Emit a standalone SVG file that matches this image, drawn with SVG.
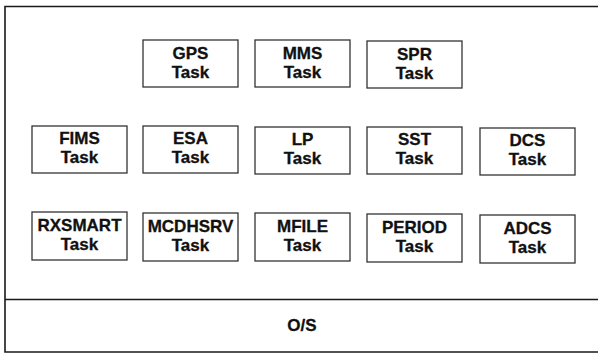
<svg xmlns="http://www.w3.org/2000/svg" width="598" height="356" viewBox="0 0 598 356">
<style>
.frame{fill:none;stroke:#1a1a1a;stroke-width:1.6}
.box{fill:#fff;stroke:#333;stroke-width:1.3}
.t{font-family:"Liberation Sans",Arial,sans-serif;font-weight:bold;font-size:17px;fill:#111;stroke:#111;stroke-width:0.3;text-anchor:middle}
</style>
<rect width="598" height="356" fill="#fff"/>
<g id="frame">
<path class="frame" d="M600,6.5 H5 V352 H600"/>
<line class="frame" x1="5" y1="299.5" x2="600" y2="299.5"/>
</g>
<g id="os"><text class="t" x="302" y="331">O/S</text></g>
<g id="gps"><rect class="box" x="143" y="40" width="95" height="47"/><text class="t" x="190.5" y="59">GPS</text><text class="t" x="190.5" y="78">Task</text></g>
<g id="mms"><rect class="box" x="255" y="40" width="95" height="47"/><text class="t" x="302.5" y="59">MMS</text><text class="t" x="302.5" y="78">Task</text></g>
<g id="spr"><rect class="box" x="367" y="41" width="95" height="47"/><text class="t" x="414.5" y="60">SPR</text><text class="t" x="414.5" y="79">Task</text></g>
<g id="fims"><rect class="box" x="32" y="126" width="95" height="47"/><text class="t" x="79.5" y="144">FIMS</text><text class="t" x="79.5" y="163">Task</text></g>
<g id="esa"><rect class="box" x="143" y="126" width="95" height="47"/><text class="t" x="190.5" y="144">ESA</text><text class="t" x="190.5" y="163">Task</text></g>
<g id="lp"><rect class="box" x="255" y="127" width="95" height="47"/><text class="t" x="302.5" y="145">LP</text><text class="t" x="302.5" y="164">Task</text></g>
<g id="sst"><rect class="box" x="367" y="127" width="95" height="47"/><text class="t" x="414.5" y="145">SST</text><text class="t" x="414.5" y="164">Task</text></g>
<g id="dcs"><rect class="box" x="480" y="128" width="95" height="47"/><text class="t" x="527.5" y="146">DCS</text><text class="t" x="527.5" y="165">Task</text></g>
<g id="rxsmart"><rect class="box" x="32" y="212" width="95" height="48"/><text class="t" x="79.5" y="231">RXSMART</text><text class="t" x="79.5" y="250">Task</text></g>
<g id="mcdhsrv"><rect class="box" x="143" y="213" width="95" height="48"/><text class="t" x="190.5" y="232">MCDHSRV</text><text class="t" x="190.5" y="251">Task</text></g>
<g id="mfile"><rect class="box" x="255" y="213" width="95" height="48"/><text class="t" x="302.5" y="232">MFILE</text><text class="t" x="302.5" y="251">Task</text></g>
<g id="period"><rect class="box" x="367" y="214" width="95" height="48"/><text class="t" x="414.5" y="233">PERIOD</text><text class="t" x="414.5" y="252">Task</text></g>
<g id="adcs"><rect class="box" x="480" y="215" width="95" height="48"/><text class="t" x="527.5" y="234">ADCS</text><text class="t" x="527.5" y="253">Task</text></g>
<g id="connectors"></g>
</svg>
